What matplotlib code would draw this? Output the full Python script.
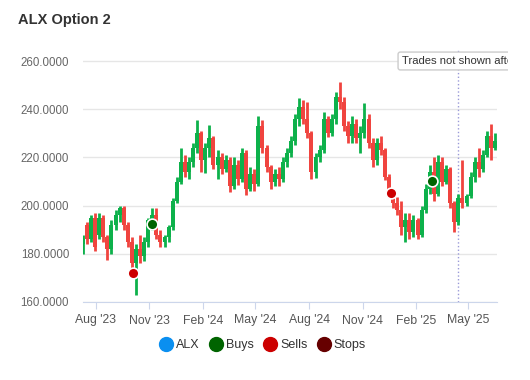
import matplotlib
matplotlib.use("Agg")
import matplotlib.pyplot as plt
import matplotlib.dates as mdates
from matplotlib.lines import Line2D
from matplotlib.transforms import Bbox
import pandas as pd
from datetime import datetime, timedelta

plt.rcParams['font.family'] = ['Liberation Sans', 'DejaVu Sans']

# weekly candles
dates = pd.date_range('2023-07-10', periods=102, freq='7D')
opens = [184, 192, 186, 195, 188, 195, 187, 182, 192, 196, 199, 192, 185, 176, 182, 179, 185, 194, 196, 188,
         185, 187, 191, 202, 210, 218, 214, 218, 224, 230, 219, 224, 228, 217, 220, 215, 219, 208, 217, 211,
         222, 207, 213, 209, 233, 224, 216, 210, 213, 211, 218, 222, 227, 236, 241, 236, 230, 214, 220, 223,
         236, 230, 236, 245, 243, 233, 229, 234, 228, 230, 236, 226, 219, 226, 223, 212, 206, 201, 198, 191,
         194, 189, 194, 188, 198, 207, 214, 205, 218, 210, 215, 201, 193, 203, 201, 204, 212, 218, 215, 221,
         229, 224]
highs = [188, 193, 196, 197, 197, 196, 188, 194, 198, 200, 200, 193, 187, 184, 188, 187, 195, 199, 199, 190,
         188, 192, 203, 212, 224, 221, 220, 226, 235.5, 231, 226, 233.5, 229, 223, 222, 221, 220, 220, 219, 224,
         223, 216, 215, 237, 235.5, 225, 217, 215, 216, 220, 224, 229, 238, 244.6, 244, 243, 231, 222, 225, 239,
         237, 238, 247, 251.3, 245, 235, 237, 236, 233, 242.6, 238, 228, 228, 229, 224, 213, 207, 203.5, 202, 197,
         197, 196, 195, 200, 209, 217, 220, 221, 220, 217, 216, 202, 205, 219, 205, 214, 220, 224, 223, 231,
         234, 230]
lows = [180, 184, 185, 181, 186, 185, 177.5, 180, 190, 193, 190, 183, 172, 163, 176, 177, 183, 190, 186, 183,
        183, 185, 190, 201, 209, 212, 211, 216, 222, 214, 213.5, 220, 215, 211, 213, 214, 205.6, 207, 208.5, 210,
        204.5, 206, 206, 208, 222, 214, 207, 208, 208, 210, 216, 220, 225, 233, 234, 228, 211, 211.5, 218, 222,
        228.5, 229, 234, 240, 231, 226, 226, 226, 222, 228, 224, 216, 217, 221, 210.6, 204, 199, 196, 188, 185,
        186, 187, 186, 187, 197, 205, 202, 204, 208, 209, 199, 189, 192, 199, 200, 203, 210, 212, 214, 220,
        219, 223]
closes = [186, 186, 195, 183, 195, 187, 182, 192, 196, 199, 192, 185, 176, 182, 179, 185, 194, 196, 188, 185,
          187, 191, 202, 210, 218, 214, 218, 224, 230, 219, 224, 228, 217, 220, 215, 219, 208, 217, 211, 222,
          207, 213, 209, 233, 224, 216, 210, 213, 211, 218, 222, 227, 236, 241, 236, 230, 214, 220, 223, 236,
          230, 236, 245, 243, 233, 229, 234, 228, 230, 236, 226, 219, 226, 223, 212, 206, 201, 198, 191, 194,
          189, 194, 188, 198, 207, 214, 205, 218, 210, 215, 201, 193, 203, 201, 204, 212, 218, 215, 221, 229,
          224, 227]

buy_dates = ['2023-11-05', '2025-02-27']
buy_prices = [192.4, 210.2]
sell_dates = ['2023-10-04', '2024-12-20']
sell_prices = [172.0, 205.2]
cutoff = '2025-04-14'

up_col = '#0db14b'
down_col = '#f0443f'

fig = plt.figure(figsize=(5.3, 3.8), dpi=100)
ax = fig.add_axes([83 / 530, 78 / 380, 414 / 530, 253 / 380])

for d, o, h, l, c in zip(dates, opens, highs, lows, closes):
    col = up_col if c >= o else down_col
    ax.vlines(d, l, h, color=col, lw=2, zorder=3)
    ax.bar(d, max(abs(c - o), 0.8), bottom=min(o, c), width=6.8, color=col, lw=0, zorder=3)

ax.scatter(pd.to_datetime(buy_dates), buy_prices, s=60, color='#006400', edgecolor='white', lw=1.2, zorder=5)
ax.scatter(pd.to_datetime(sell_dates), sell_prices, s=60, color='#cc0000', edgecolor='white', lw=1.2, zorder=5)

ax.axvline(pd.to_datetime(cutoff), color='#9a9ad8', ls=':', lw=1, zorder=2)

base = datetime(2023, 8, 1)
ax.set_xlim(base - timedelta(days=21.8), base + timedelta(days=688.3))
ax.set_ylim(160, 265)
ax.set_yticks([160, 180, 200, 220, 240, 260])
ax.yaxis.set_major_formatter(plt.FuncFormatter(lambda v, p: f'{v:.4f}'))
ax.xaxis.set_major_locator(mdates.MonthLocator(bymonth=[2, 5, 8, 11]))
ax.xaxis.set_major_formatter(mdates.DateFormatter("%b '%y"))

ax.grid(axis='y', color='#e6e6e6', lw=1, zorder=0)
for s in ['top', 'right', 'left']:
    ax.spines[s].set_visible(False)
ax.spines['bottom'].set_color('#ccd6eb')
ax.tick_params(axis='y', length=0, labelsize=8.3, labelcolor='#666666', pad=10)
ax.tick_params(axis='x', length=5, color='#ccd6eb', labelsize=8.8, labelcolor='#555555', pad=4)

fig.text(18 / 530, 1 - 20 / 380, 'ALX Option 2', fontsize=10.5, fontweight='bold', color='#333333', va='center')

t = fig.text(402 / 530, 1 - 61 / 380, 'Trades not shown after', fontsize=8.1, color='#333333', va='center',
             bbox=dict(boxstyle='round,pad=0.35,rounding_size=0.2', fc='white', ec='#cccccc', lw=1), zorder=10)
t.set_clip_box(Bbox([[0, 0], [508, 380]]))

handles = [Line2D([], [], marker='o', ls='', ms=10, color=c) for c in ['#0a8ff0', '#006400', '#cc0000', '#660000']]
fig.legend(handles, ['ALX', 'Buys', 'Sells', 'Stops'], loc='center', bbox_to_anchor=(0.495, 1 - 345 / 380),
           ncol=4, frameon=False, handletextpad=0.2, columnspacing=0.7, fontsize=9, labelcolor='#333333',
           handlelength=1.2)

fig.savefig('out.png', dpi=100)
